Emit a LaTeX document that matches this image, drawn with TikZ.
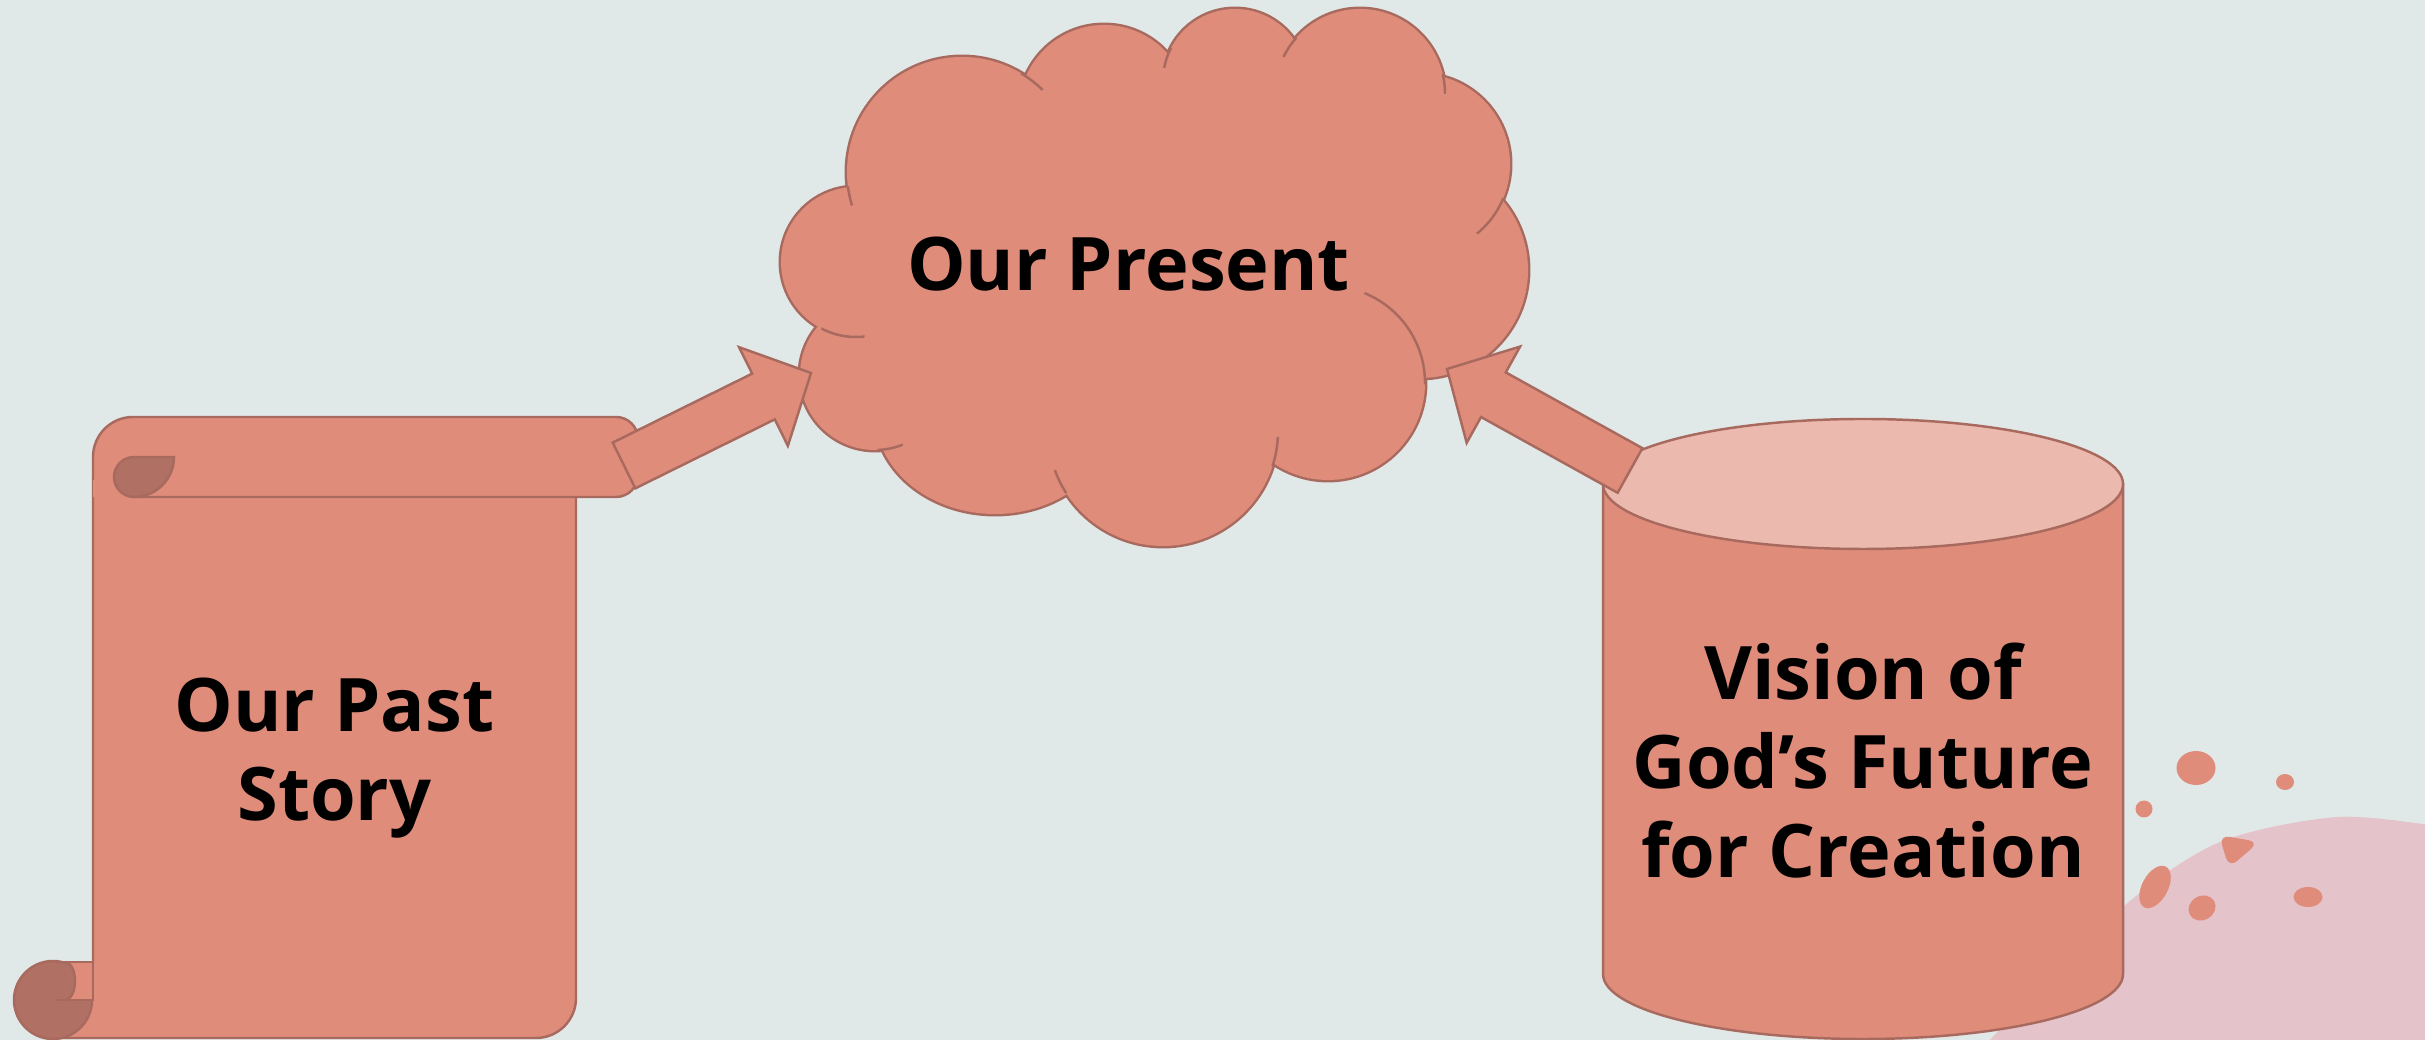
\documentclass[tikz,border=0pt]{standalone}
\usepackage{fontspec}
\setmainfont{Open Sans}
\usepackage{xcolor}
\usetikzlibrary{calc}
\definecolor{bgcol}{HTML}{E1E8E8}
\definecolor{salmon}{HTML}{DF8C7B}
\definecolor{edgecol}{HTML}{A86A5E}
\definecolor{curlcol}{HTML}{B07064}
\definecolor{lidcol}{HTML}{ECB9AF}
\definecolor{blobcol}{HTML}{E5C3CB}
\tikzset{
  outl/.style={draw=edgecol, line width=0.7pt},
  part/.style={outl, fill=salmon},
  bigtext/.style={font=\fontsize{21}{25.3}\selectfont\bfseries, align=center, text=black}
}
\newcommand{\puffs}{962/868/115/115, 1104/930/85/85, 1235/959/72/72, 1360/946/85/85, 1420/876/90/90, 1420/770/108/108, 1328/657/97/97, 1163/609/115/115, 995/626/120/100, 875/665/75/75, 856/778/75/75}

\begin{document}
\begin{tikzpicture}[x=0.01cm, y=0.01cm]
\useasboundingbox (0,0) rectangle (2425,1040);
\fill[bgcol] (0,0) rectangle (2425,1040);
\clip (0,0) rectangle (2425,1040);

% pink blob with splashes
\fill[blobcol] plot[smooth] coordinates {(1985,-5) (2123,133) (2220,198) (2337,223) (2435,214)} -- (2435,-5) -- cycle;
\fill[salmon] (2196,272) ellipse[x radius=19.5, y radius=17];
\fill[salmon] (2285,258) ellipse[x radius=9, y radius=8];
\fill[salmon] (2144,231) circle[radius=8.5];
\fill[salmon, rounded corners=3] (2219,205) -- (2259,198) -- (2229,172) -- cycle;
\fill[salmon, rotate around={62:(2155,153)}] (2155,153) ellipse[x radius=23, y radius=13];
\fill[salmon, rotate around={30:(2202,132)}] (2202,132) ellipse[x radius=14, y radius=12];
\fill[salmon] (2308,143) ellipse[x radius=14.5, y radius=10];

% cloud
\foreach \cx/\cy/\rx/\ry in \puffs
  \draw[draw=edgecol, line width=1.4pt] (\cx,\cy) ellipse[x radius=\rx, y radius=\ry];
\fill[salmon] (1150,760) ellipse[x radius=260, y radius=160];
\fill[salmon] (1280,880) circle[radius=80];
\foreach \cx/\cy/\rx/\ry in \puffs
  \fill[salmon] (\cx,\cy) ellipse[x radius=\rx, y radius=\ry];
\foreach \px/\py/\cr/\cx/\cy/\rr in {1033/960/14/962/868/115, 1165/983/11/1235/959/72,
    1288/994/12/1360/946/85, 1444/956/10/1360/946/85, 1490/824/22/1420/876/90,
    1400/705/55/1328/657/97, 1277/588/15/1163/609/115, 1060/558/13/1163/609/115,
    890/594/13/875/665/75, 843/708/22/856/778/75, 850/844/10/962/868/115}{
  \begin{scope}
    \clip (\px,\py) circle[radius=\cr];
    \draw[outl] (\cx,\cy) circle[radius=\rr];
  \end{scope}
}

% scroll
\filldraw[part] (93,78) -- (93,560) -- (576,560) -- (576,42) arc[start angle=0, end angle=-90, radius=40] -- (53,2) -- cycle;
\fill[salmon] (93,583) arc[start angle=180, end angle=90, radius=40] -- (616,623) arc[start angle=90, end angle=0, radius=22] -- (638,565) arc[start angle=0, end angle=-90, radius=22] -- (93,543) -- cycle;
\draw[outl] (93,560) -- (93,583) arc[start angle=180, end angle=90, radius=40] -- (616,623) arc[start angle=90, end angle=0, radius=22] -- (638,565) arc[start angle=0, end angle=-90, radius=22] -- (134,543);
\filldraw[outl, fill=curlcol] (134,583) -- (174,583) arc[start angle=0, end angle=-90, radius=40] arc[start angle=-90, end angle=-270, radius=20] -- cycle;
\filldraw[outl, fill=curlcol] (53,40) circle[radius=39];
\fill[salmon] (65,78) -- (93,78) -- (93,40) -- (65,40) arc[start angle=-90, end angle=90, x radius=10, y radius=19] -- cycle;
\draw[outl] (53,78) -- (93,78) -- (93,40) -- (55,40);
\draw[outl] (65,40) arc[start angle=-90, end angle=90, x radius=10, y radius=19];

% cylinder
\filldraw[part] (1603,556) -- (1603,66) arc[start angle=180, end angle=360, x radius=260, y radius=65] -- (2123,556) -- cycle;
\filldraw[outl, fill=lidcol] (1863,556) ellipse[x radius=260, y radius=65];

% arrows
\coordinate (pastend) at (624,574.5);
\coordinate (presentleft) at (811,667);
\coordinate (visionend) at (1630,569.5);
\coordinate (presentright) at (1447,671);
\foreach \src/\dst in {pastend/presentleft, visionend/presentright}{
  \coordinate (hb) at ($(\dst)!0.53cm!(\src)$);
  \filldraw[part] ($(\src)!0.255cm!90:(\dst)$) -- ($(hb)!0.255cm!90:(\dst)$) -- ($(hb)!0.55cm!90:(\dst)$) -- (\dst)
    -- ($(hb)!0.55cm!-90:(\dst)$) -- ($(hb)!0.255cm!-90:(\dst)$) -- ($(\src)!0.255cm!-90:(\dst)$) -- cycle;
}

% labels
\node[bigtext] (past) at (334.5,282) {Our Past\\Story};
\node[bigtext, anchor=base] (present) at (1128.5,749) {Our Present};
\node[bigtext] (vision) at (1863,279) {Vision of\\God’s Future\\for Creation};
\end{tikzpicture}
\end{document}
